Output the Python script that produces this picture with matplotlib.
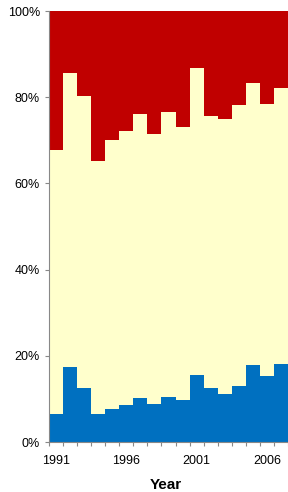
import matplotlib
matplotlib.use("Agg")
import matplotlib.pyplot as plt
import numpy as np

plt.rcParams['font.family'] = ['Liberation Sans', 'DejaVu Sans']

years = list(range(1991, 2008))
blue = [6.5, 17.4, 12.5, 6.6, 7.6, 8.6, 10.3, 8.9, 10.5, 9.8, 15.6, 12.6, 11.1, 13.0, 17.9, 15.4, 18.1]
cum_top = [67.7, 85.6, 80.3, 65.3, 70.0, 72.1, 76.0, 71.4, 76.6, 73.0, 86.7, 75.7, 75.0, 78.2, 83.3, 78.5, 82.1]
middle = [c - b for c, b in zip(cum_top, blue)]
red = [100 - c for c in cum_top]
tick_years = ['1991', '1996', '2001', '2006']

fig = plt.figure(figsize=(2.88, 4.92), dpi=100)
ax = fig.add_axes([0.170, 0.1016, 0.830, 0.876])

x = np.arange(len(years))
ax.bar(x, blue, width=1.0, color='#0070C0', linewidth=0)
ax.bar(x, middle, width=1.0, bottom=blue, color='#FFFFCC', linewidth=0)
ax.bar(x, red, width=1.0, bottom=cum_top, color='#C00000', linewidth=0)

ax.set_xlim(-0.5, len(years) - 0.5)
ax.set_ylim(0, 100)
ax.set_yticks([0, 20, 40, 60, 80, 100])
ax.set_yticklabels([f'{v}%' for v in [0, 20, 40, 60, 80, 100]], fontsize=9)

ax.set_xticks(np.arange(-0.5, len(years), 1.0), minor=False)
ax.set_xticklabels([])
ax.tick_params(axis='x', length=3, color='#888888', width=0.8)
ax.tick_params(axis='y', length=3, color='#888888', width=0.8)
for i, y in enumerate(years):
    if str(y) in tick_years:
        ax.text(i, -4.3, str(y), ha='center', va='center', fontsize=9)

ax.text(7.8, -10.0, 'Year', ha='center', va='center', fontsize=11, fontweight='bold')

for s in ['top', 'right']:
    ax.spines[s].set_visible(False)
for s in ['left', 'bottom']:
    ax.spines[s].set_color('#888888')
    ax.spines[s].set_linewidth(0.8)

fig.savefig('out.png', dpi=100)
